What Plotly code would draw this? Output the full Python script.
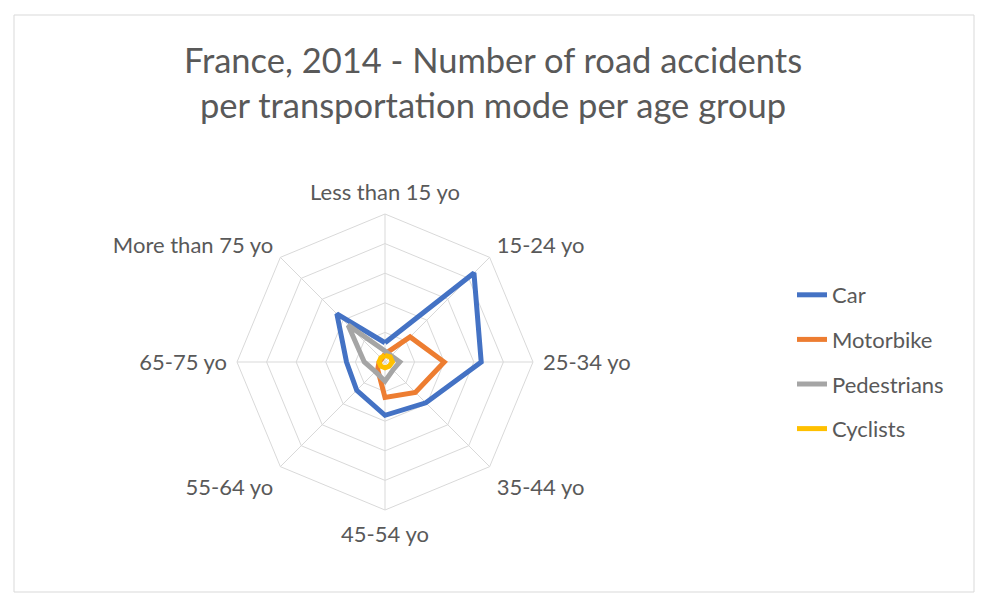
import plotly.graph_objects as go

categories = ["Less than 15 yo", "15-24 yo", "25-34 yo", "35-44 yo",
              "45-54 yo", "55-64 yo", "65-75 yo", "More than 75 yo"]
car = [1300, 8500, 6500, 3900, 3600, 2700, 2600, 4600]
motorbike = [550, 2400, 4000, 2900, 2400, 700, 400, 300]
pedestrians = [740, 600, 1000, 760, 1300, 920, 1400, 3520]
cyclists = [440, 500, 500, 400, 400, 400, 400, 400]

series_names = ["Car", "Motorbike", "Pedestrians", "Cyclists"]
series_values = [car, motorbike, pedestrians, cyclists]
series_colors = ["#4472C4", "#ED7D31", "#A5A5A5", "#FFC000"]

FONT = "Lato"
W, H = 991, 608
OFF = 8  # page body margin compensation
cx, cy, R = 385 - OFF, 362 - OFF, 148

def px_x(x):
    return (x - OFF) / W

def px_y(y):
    return 1 - (y - OFF) / H

fig = go.Figure()
for name, vals, col in zip(series_names, series_values, series_colors):
    fig.add_trace(go.Scatterpolar(
        r=vals + vals[:1], theta=categories + categories[:1],
        mode="lines", name=name, legendgroup=name,
        line=dict(color=col, width=5),
    ))

fig.update_layout(
    width=W, height=H,
    margin=dict(l=0, r=0, t=0, b=0),
    paper_bgcolor="white",
    font=dict(family=FONT, color="#595959"),
    title=dict(
        text="France, 2014 - Number of road accidents<br>per transportation mode per age group",
        x=px_x(493), xanchor="center", xref="paper",
        y=px_y(73), yanchor="top", yref="container",
        font=dict(family=FONT, size=34.5, color="#595959"),
    ),
    polar=dict(
        domain=dict(x=[(cx - R) / W, (cx + R) / W],
                    y=[(H - cy - R) / H, (H - cy + R) / H]),
        bgcolor="white",
        gridshape="linear",
        radialaxis=dict(range=[0, 10000], dtick=2000, showticklabels=False,
                        ticks="", showline=False, gridcolor="#d9d9d9",
                        gridwidth=1),
        angularaxis=dict(direction="clockwise", rotation=90,
                         showline=True, linecolor="#d9d9d9", linewidth=1,
                         gridcolor="#d9d9d9", ticks="outside", ticklen=5,
                         tickcolor="rgba(0,0,0,0)",
                         tickfont=dict(family=FONT, size=22, color="#595959")),
    ),
    legend=dict(
        x=px_x(792), xanchor="left", y=px_y(274), yanchor="top",
        font=dict(family=FONT, size=22, color="#595959"),
        tracegroupgap=13, itemwidth=30,
        bgcolor="rgba(0,0,0,0)",
    ),
    shapes=[dict(type="rect", xref="paper", yref="paper",
                 x0=px_x(14), x1=px_x(974), y0=px_y(592), y1=px_y(15),
                 line=dict(color="#d9d9d9", width=1))],
)

fig.write_html("out.html")
